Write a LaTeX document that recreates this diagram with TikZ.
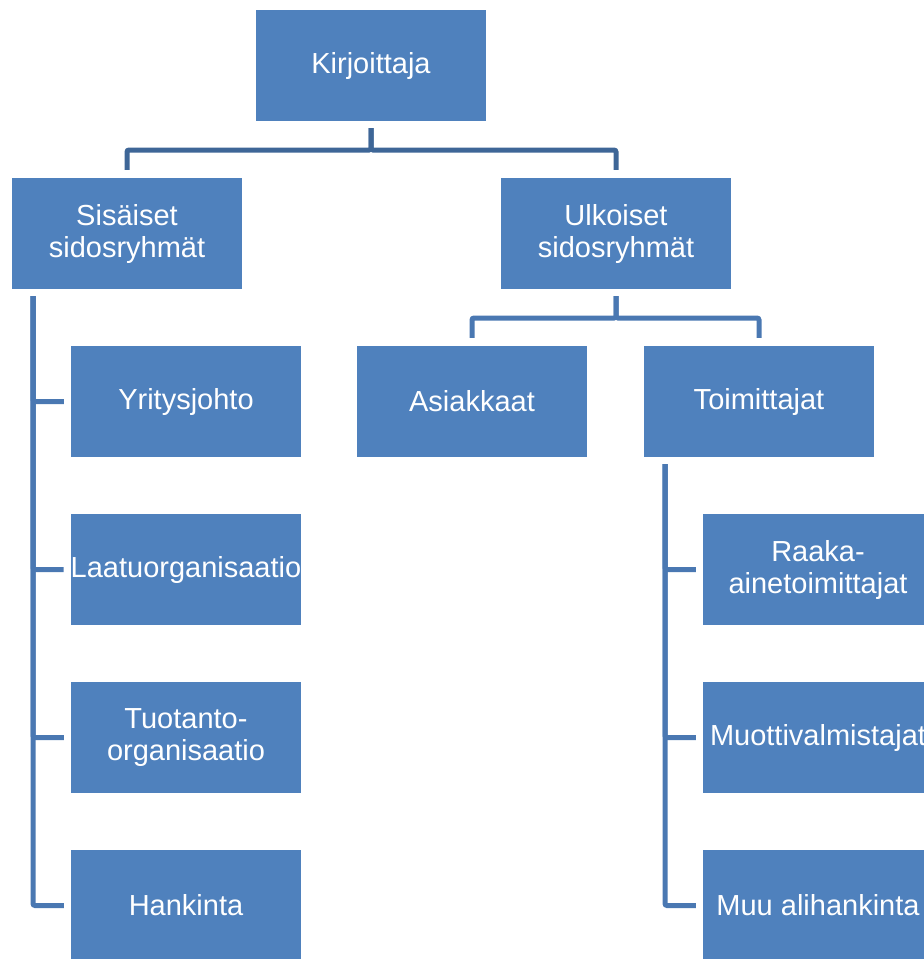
\documentclass[tikz,border=0pt]{standalone}
\usepackage{fontspec}
\setmainfont{Liberation Sans}
\usetikzlibrary{positioning}
\definecolor{boxblue}{HTML}{4F81BD}
\definecolor{toplinkblue}{HTML}{3E6697}
\definecolor{linkblue}{HTML}{4A78B2}
\tikzset{
  orgbox/.style={fill=boxblue, draw=none, minimum width=230pt, minimum height=111pt,
    inner sep=0pt, text=white, align=center, font=\fontsize{29}{32}\selectfont},
  toplink/.style={draw=toplinkblue, line width=5pt, rounded corners=2pt},
  sublink/.style={draw=linkblue, line width=5pt, rounded corners=2pt}
}
\begin{document}
\begin{tikzpicture}[x=1pt,y=1pt]
\useasboundingbox (0,0) rectangle (924,-959);
\clip (0,0) rectangle (924,-959);
% top level
\node[orgbox] (kirj) at (371,-65.5) {Kirjoittaja};
\node[orgbox] (sis) at (127,-233.5) {Sisäiset\\sidosryhmät};
\node[orgbox] (ulk) at (616,-233.5) {Ulkoiset\\sidosryhmät};
% internal groups
\node[orgbox] (yrit) at (186,-401.5) {Yritysjohto};
\node[orgbox] (laatu) at (186,-569.5) {Laatuorganisaatio};
\node[orgbox] (tuot) at (186,-737.5) {Tuotanto-\\organisaatio};
\node[orgbox] (hank) at (186,-905.5) {Hankinta};
% external groups
\node[orgbox] (asiak) at (472,-401.5) {Asiakkaat};
\node[orgbox] (toim) at (759,-401.5) {Toimittajat};
\node[orgbox] (raaka) at (818,-569.5) {Raaka-\\ainetoimittajat};
\node[orgbox] (muotti) at (818,-737.5) {Muottivalmistajat};
\node[orgbox] (muu) at (818,-905.5) {Muu alihankinta};
% connectors
\coordinate (topbar) at (371,-150);
\coordinate (ulkbar) at (616,-318);
\coordinate (sisspine) at (33,-296);
\coordinate (toimspine) at (665,-464);
\draw[toplink, shorten <=7pt, shorten >=8pt] (kirj.south) -- (topbar) -| (sis.north);
\draw[toplink, shorten <=7pt, shorten >=8pt] (kirj.south) -- (topbar) -| (ulk.north);
\draw[sublink, shorten <=7pt, shorten >=8pt] (ulk.south) -- (ulkbar) -| (asiak.north);
\draw[sublink, shorten <=7pt, shorten >=8pt] (ulk.south) -- (ulkbar) -| (toim.north);
\foreach \child in {yrit,laatu,tuot,hank}
  \draw[sublink, shorten >=7pt] (sisspine) |- (\child.west);
\foreach \child in {raaka,muotti,muu}
  \draw[sublink, shorten >=7pt] (toimspine) |- (\child.west);
\end{tikzpicture}
\end{document}
